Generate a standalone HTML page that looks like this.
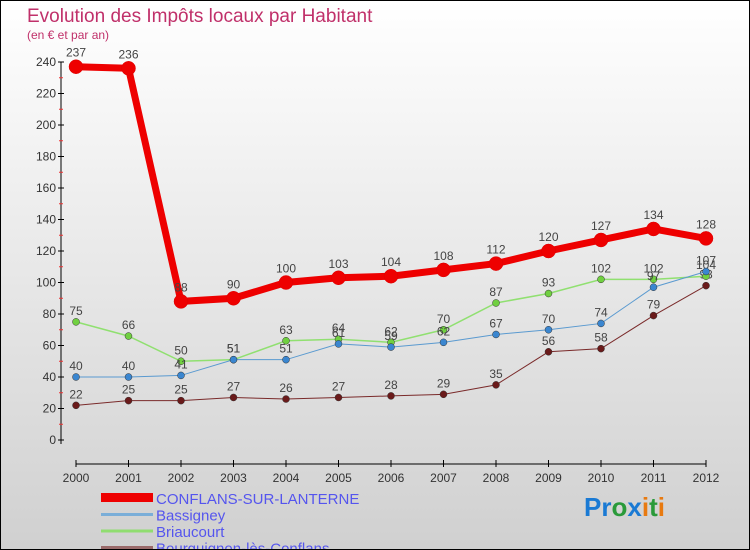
<!DOCTYPE html>
<html><head><meta charset="utf-8"><style>
body{margin:0}
#c{width:750px;height:550px;position:relative;box-sizing:border-box;border:1px solid #000;background:linear-gradient(#fff,#d0d0d0);font-family:"Liberation Sans",sans-serif;overflow:hidden}
</style></head><body>
<div id="c">
<svg id="s" width="750" height="550" style="position:absolute;left:0;top:0">
<text x="26" y="21" font-size="19" fill="#c0306a">Evolution des Impôts locaux par Habitant</text>
<text x="26" y="38" font-size="12" fill="#c0306a">(en € et par an)</text>
<g id="ax"></g><g id="ser"></g>
<text x="583" y="515" font-size="26" font-weight="bold"><tspan fill="#1a7ad4">Pr</tspan><tspan fill="#2a9a3a">o</tspan><tspan fill="#1a7ad4">x</tspan><tspan fill="#e87a10">i</tspan><tspan fill="#2a9a3a">t</tspan><tspan fill="#e87a10">i</tspan></text>
</svg>
</div>
<script>
const years=[2000,2001,2002,2003,2004,2005,2006,2007,2008,2009,2010,2011,2012];
const conflans=[237,236,88,90,100,103,104,108,112,120,127,134,128];
const bassigney=[40,40,41,51,51,61,59,62,67,70,74,97,107];
const briaucourt=[75,66,50,51,63,64,62,70,87,93,102,102,104];
const bourguignon=[22,25,25,27,26,27,28,29,35,56,58,79,98];
const yTicks=[0,20,40,60,80,100,120,140,160,180,200,220,240];
const seriesNames=["CONFLANS-SUR-LANTERNE","Bassigney","Briaucourt","Bourguignon-lès-Conflans"];
const NS="http://www.w3.org/2000/svg";
const X=i=>75+i*52.5, Y=v=>439-v*378/240;
function mk(t,a,p){const e=document.createElementNS(NS,t);for(const k in a)e.setAttribute(k,a[k]);p.appendChild(e);return e;}
const ax=document.getElementById('ax'), ser=document.getElementById('ser');
mk('line',{x1:60,y1:Y(240),x2:60,y2:Y(0)+4,stroke:'#000'},ax);
yTicks.forEach((v,i)=>{
 const t=mk('line',{x1:57,y1:Y(v),x2:63,y2:Y(v),stroke:'#000'},ax);
 
 if(i<yTicks.length-1) mk('line',{x1:58,y1:Y(v+10),x2:62,y2:Y(v+10),stroke:'#e33'},ax);
 const l=mk('text',{x:55,y:Y(v)+4,'font-size':12,fill:'#333','text-anchor':'end'},ax);l.textContent=v;
 
});
mk('line',{x1:75,y1:463,x2:705,y2:463,stroke:'#000'},ax);
years.forEach((y,i)=>{
 mk('line',{x1:X(i),y1:459,x2:X(i),y2:466,stroke:'#000'},ax);
 const l=mk('text',{x:X(i),y:481,'font-size':12,fill:'#333','text-anchor':'middle'},ax);l.textContent=y;
 
});
const defs=[[bourguignon,'#7a2a2a','#6a1a1a',1,3.5],[briaucourt,'#90e070','#70d040',1.5,3.5],[bassigney,'#5a9ad0','#3a86d0',1,3.5],[conflans,'#ee0000','#ee0000',7,7]];
const names=['series-bourguignon','series-briaucourt','series-bassigney','series-conflans'];
defs.forEach(([d,c,fc,w,r],k)=>{
 const g=mk('g',{},ser);
 mk('polyline',{points:d.map((v,i)=>X(i)+','+Y(v)).join(' '),fill:'none',stroke:c,'stroke-width':w},g);
 d.forEach((v,i)=>{
  const p=mk('circle',{cx:X(i),cy:Y(v),r:r,fill:fc,stroke:k==3?'#d00':'#333','stroke-width':0.5},g);
  
  const t=mk('text',{x:X(i),y:Y(v)-(k==3?10:7),'font-size':12,fill:'#444','text-anchor':'middle'},g);t.textContent=v;
 });
});
const lc=['#ee0000','#7aaed8','#90dd70','#9a6a6a'];
seriesNames.forEach((n,i)=>{
 const g=mk('g',{},ser);
 const yy=497+i*16.5;
 mk('rect',{x:100,y:i==0?yy-5:yy-1.5,width:52,height:i==0?9:3,fill:lc[i]},g);
 const t=mk('text',{x:155,y:yy+6,'font-size':15,fill:'#5555ee'},g);t.textContent=n;
});
</script>
</body></html>
